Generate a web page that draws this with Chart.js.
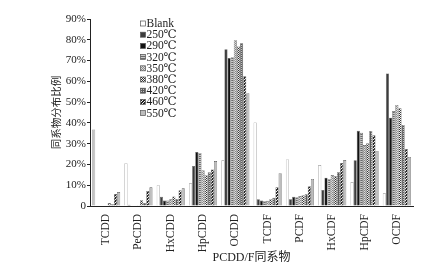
<!DOCTYPE html>
<html>
<head>
<meta charset="utf-8">
<script src="https://cdn.jsdelivr.net/npm/chart.js@4.4.1/dist/chart.umd.min.js"></script>
<style>
  html, body { margin: 0; padding: 0; background: #fff; }
  #wrap { width: 426px; height: 269px; }
</style>
</head>
<body>
<div id="wrap"><canvas id="c" width="426" height="269"></canvas></div>
<script>
// PCDD/F congener distribution, blank vs. temperature runs
const congeners = ['TCDD', 'PeCDD', 'HxCDD', 'HpCDD', 'OCDD',
                   'TCDF', 'PCDF', 'HxCDF', 'HpCDF', 'OCDF'];
const seriesNames = ['Blank', '250℃', '290℃', '320℃', '350℃',
                     '380℃', '420℃', '460℃', '550℃'];

// percent of each congener group
const blank = [36.8, 20.6, 10.0, 10.9, 22.0, 40.2, 22.4, 19.7, 11.5, 6.1];
const t250  = [0.2, 0.6, 4.4, 19.3, 75.5, 3.3, 3.2, 7.7, 22.0, 63.8];
const t290  = [0.2, 0.3, 2.6, 26.0, 71.2, 2.6, 4.4, 13.6, 36.2, 42.5];
const t320  = [0.2, 0.3, 2.6, 25.5, 71.6, 2.3, 4.2, 13.0, 35.2, 45.7];
const t350  = [0.3, 0.4, 3.2, 17.2, 79.8, 2.5, 4.8, 14.9, 29.3, 48.6];
const t380  = [1.4, 2.8, 4.6, 14.8, 76.8, 3.3, 5.2, 14.3, 30.2, 47.0];
const t420  = [0.9, 1.5, 3.4, 16.3, 78.3, 4.0, 5.6, 16.2, 36.1, 39.0];
const t460  = [5.8, 7.2, 7.6, 17.6, 62.4, 9.0, 9.5, 20.7, 34.0, 27.4];
const t550  = [6.7, 9.0, 8.5, 21.6, 54.3, 15.8, 13.0, 22.1, 26.5, 23.6];

const yTicks = [0, 10, 20, 30, 40, 50, 60, 70, 80, 90];

const SERIF = '"Liberation Serif", "DejaVu Serif", "Noto Sans CJK SC", serif';
const CJK = '"Noto Sans CJK SC", "Liberation Serif", sans-serif';

// small tile patterns to mimic the print hatching
function tile(size, cells) {
    const cv = document.createElement('canvas');
    cv.width = size; cv.height = size;
    const g = cv.getContext('2d');
    cells.forEach(function (row, y) {
        row.forEach(function (col, x) {
            g.fillStyle = col;
            g.fillRect(x, y, 1, 1);
        });
    });
    return g.createPattern(cv, 'repeat');
}

const fills = [
    '#ffffff',
    '#3c3c3c',
    '#111111',
    tile(2, [['#6a6a6a', '#6a6a6a'], ['#c8c8c8', '#c8c8c8']]),
    tile(2, [['#8a8a8a', '#dadada'], ['#dadada', '#8a8a8a']]),
    tile(2, [['#333333', '#f4f4f4'], ['#f4f4f4', '#333333']]),
    tile(2, [['#5a5a5a', '#5a5a5a'], ['#5a5a5a', '#c0c0c0']]),
    tile(3, [['#222', '#222', '#eee'], ['#222', '#eee', '#222'], ['#eee', '#222', '#222']]),
    '#bdbdbd'
];
const series = [blank, t250, t290, t320, t350, t380, t420, t460, t550];

// in the print the TCDD blank bar comes out grey
function barFill(i) {
    if (i !== 0) return fills[i];
    return congeners.map(function (c, k) { return k === 0 ? '#c4c4c4' : '#ffffff'; });
}

// legend drawn inside the plot, upper middle-left
const innerLegend = {
    id: 'innerLegend',
    afterDraw: function (chart) {
        const ctx = chart.ctx;
        const area = chart.chartArea;
        const x0 = area.left + 50.5;
        const y0 = area.top + 4.5;
        ctx.save();
        ctx.font = '11.5px ' + SERIF;
        ctx.textBaseline = 'middle';
        ctx.textAlign = 'left';
        chart.data.datasets.forEach(function (ds, i) {
            const y = y0 + i * 11.2;
            ctx.fillStyle = fills[i];
            ctx.fillRect(x0, y - 2.5, 5, 5);
            ctx.strokeStyle = '#555';
            ctx.lineWidth = 0.7;
            ctx.strokeRect(x0, y - 2.5, 5, 5);
            ctx.fillStyle = '#222';
            ctx.fillText(ds.label, x0 + 6, y + 0.5);
        });
        ctx.restore();
    }
};

const chart = new Chart(document.getElementById('c').getContext('2d'), {
    type: 'bar',
    data: {
        labels: congeners,
        datasets: series.map(function (vals, i) {
            return {
                label: seriesNames[i],
                data: vals,
                backgroundColor: barFill(i),
                borderColor: i === 0 ? '#8a8a8a' : '#555',
                borderWidth: 0.6,
                categoryPercentage: 0.87,
                barPercentage: 1.0
            };
        })
    },
    options: {
        responsive: false,
        animation: false,
        layout: { padding: { top: 19, right: 13, left: 0, bottom: 0 } },
        plugins: {
            legend: { display: false },
            tooltip: { enabled: false }
        },
        scales: {
            x: {
                grid: { display: false },
                border: { display: true, color: '#222', width: 1 },
                ticks: {
                    color: '#222',
                    font: { family: SERIF, size: 11.5 },
                    minRotation: 90, maxRotation: 90,
                    autoSkip: false, padding: 0
                },
                title: {
                    display: true, text: 'PCDD/F同系物', color: '#222',
                    font: { family: SERIF, size: 12 },
                    padding: { top: 0, bottom: 4 }
                },
                afterFit: function (s) { s.height = 63; }
            },
            y: {
                min: yTicks[0], max: yTicks[yTicks.length - 1],
                afterBuildTicks: function (s) {
                    s.ticks = yTicks.map(function (v) { return { value: v }; });
                },
                grid: {
                    drawOnChartArea: false, drawTicks: true,
                    tickLength: 3, color: '#222'
                },
                border: { display: true, color: '#222', width: 1 },
                ticks: {
                    color: '#222', padding: 1,
                    font: { family: SERIF, size: 11 },
                    callback: function (v) { return v === 0 ? '0' : v + '%'; }
                },
                title: {
                    display: true, text: '同系物分布比例', color: '#222',
                    font: { family: CJK, size: 10.5 },
                    padding: { top: 50, bottom: 0 }
                },
                afterFit: function (s) { s.width = 90; }
            }
        }
    },
    plugins: [innerLegend]
});
</script>
</body>
</html>
